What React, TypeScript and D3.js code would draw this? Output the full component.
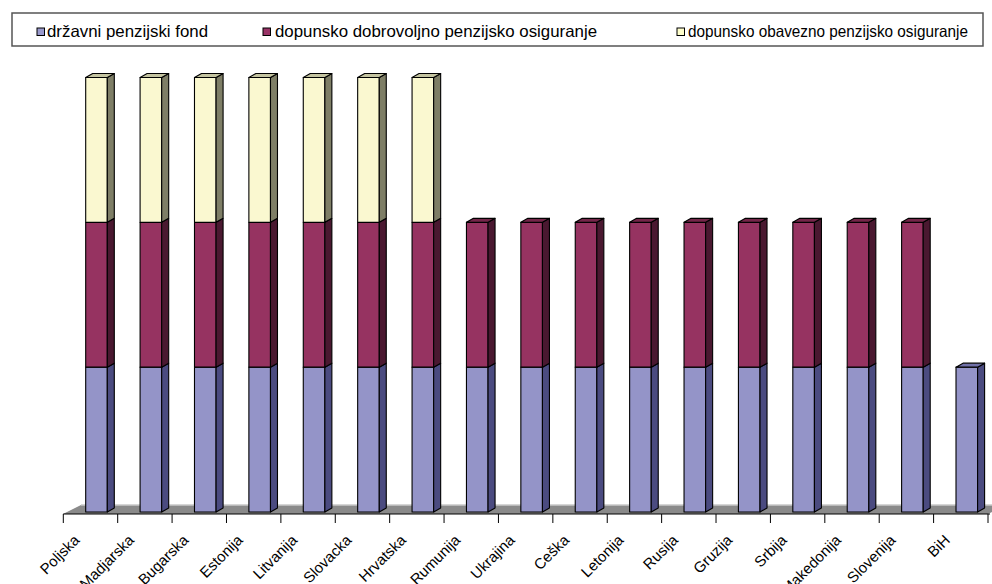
import React from "react";
import * as d3 from "d3";

const countries = ["Poljska","Madjarska","Bugarska","Estonija","Litvanija","Slovacka","Hrvatska","Rumunija","Ukrajina","Ceška","Letonija","Rusija","Gruzija","Srbija","Makedonija","Slovenija","BiH"];
const seriesNames = ["državni penzijski fond","dopunsko dobrovoljno penzijsko osiguranje","dopunsko obavezno penzijsko osiguranje"];
const drzavni = [1,1,1,1,1,1,1,1,1,1,1,1,1,1,1,1,1];
const dobrovoljno = [1,1,1,1,1,1,1,1,1,1,1,1,1,1,1,1,0];
const obavezno = [1,1,1,1,1,1,1,0,0,0,0,0,0,0,0,0,0];
const seriesValues = [drzavni, dobrovoljno, obavezno];

const front = ["#9494C8", "#963361", "#FAF8D0"];
const side = ["#4B4B80", "#4A1830", "#7E7E66"];
const top = ["#7070A8", "#742649", "#C4C4A0"];
const legendFill = ["#9999CC", "#993366", "#FFFFCC"];

export default function App() {
  const W = 992, H = 584;
  const x = d3.scaleBand<string>().domain(countries).range([63.3, 988]).paddingInner(0).paddingOuter(0);
  const y = d3.scaleLinear().domain([0, 3]).range([512, 77.5]);
  const bw = x.bandwidth();
  const barW = 21.6;
  const dx = 7, dy = 4;
  const axisY = 514;

  const floorBackY = 505;
  const floorDx = 18;
  const floorPts = [
    [63, axisY], [988, axisY], [988 + floorDx, floorBackY], [63 + floorDx, floorBackY]
  ].map(p => p.join(",")).join(" ");

  const bars: JSX.Element[] = [];
  countries.forEach((c, i) => {
    const fx = (x(c) as number) + bw / 2 + 6 - barW / 2;
    let cum = 0;
    const segs: { s: number; y0: number; y1: number }[] = [];
    seriesValues.forEach((vals, s) => {
      const v = vals[i];
      if (v > 0) {
        segs.push({ s, y0: y(cum), y1: y(cum + v) });
        cum += v;
      }
    });
    segs.forEach((sg, k) => {
      const isTop = k === segs.length - 1;
      const h = sg.y0 - sg.y1;
      bars.push(
        <g key={`${c}-${sg.s}`} stroke="#000" strokeWidth={1.1} strokeLinejoin="round">
          <rect x={fx} y={sg.y1} width={barW} height={h} fill={front[sg.s]} />
          <polygon
            points={[[fx + barW, sg.y0], [fx + barW + dx, sg.y0 - dy], [fx + barW + dx, sg.y1 - dy], [fx + barW, sg.y1]].map(p => p.join(",")).join(" ")}
            fill={side[sg.s]}
          />
          {isTop && (
            <polygon
              points={[[fx, sg.y1], [fx + barW, sg.y1], [fx + barW + dx, sg.y1 - dy], [fx + dx, sg.y1 - dy]].map(p => p.join(",")).join(" ")}
              fill={top[sg.s]}
            />
          )}
        </g>
      );
    });
  });

  const ticks = d3.range(countries.length + 1).map(k => 63.3 + k * bw);

  const legendItems = [
    { sx: 37, tx: 47, len: 161 },
    { sx: 263, tx: 275, len: 322 },
    { sx: 677, tx: 688, len: 280 },
  ];

  return (
    <svg width={W} height={H} style={{ position: "absolute", left: 0, top: 0, background: "#fff" }} fontFamily="'Liberation Sans', Arial, sans-serif">
      <rect x={0} y={0} width={W} height={H} fill="#fff" />
      {/* legend */}
      <rect x={12} y={13} width={971} height={33} fill="#fff" stroke="#555" strokeWidth={1.5} />
      {seriesNames.map((n, i) => (
        <g key={n}>
          <rect x={legendItems[i].sx} y={28} width={7.5} height={7.5} fill={legendFill[i]} stroke="#000" strokeWidth={1} />
          <text x={legendItems[i].tx} y={37} fontSize={16.5} fill="#000" textLength={legendItems[i].len} lengthAdjust="spacingAndGlyphs">{n}</text>
        </g>
      ))}
      {/* floor */}
      <polygon points={floorPts} fill="#8a8a8a" stroke="none" />
      <line x1={63 + floorDx} y1={floorBackY} x2={992} y2={floorBackY} stroke="#c8c8c8" strokeWidth={1.5} />
      {bars}
      {/* axis */}
      <line x1={63.3} y1={axisY} x2={990} y2={axisY} stroke="#000" strokeWidth={1} />
      {ticks.map((t, k) => (
        <line key={k} x1={t} y1={axisY} x2={t} y2={axisY + 9} stroke="#000" strokeWidth={1} />
      ))}
      {countries.map(c => {
        const cx = (x(c) as number) + bw / 2 - 10;
        const cy = 541;
        return (
          <text key={c} x={cx} y={cy} fontSize={15} textAnchor="end" transform={`rotate(-45 ${cx} ${cy})`} fill="#000">{c}</text>
        );
      })}
    </svg>
  );
}
